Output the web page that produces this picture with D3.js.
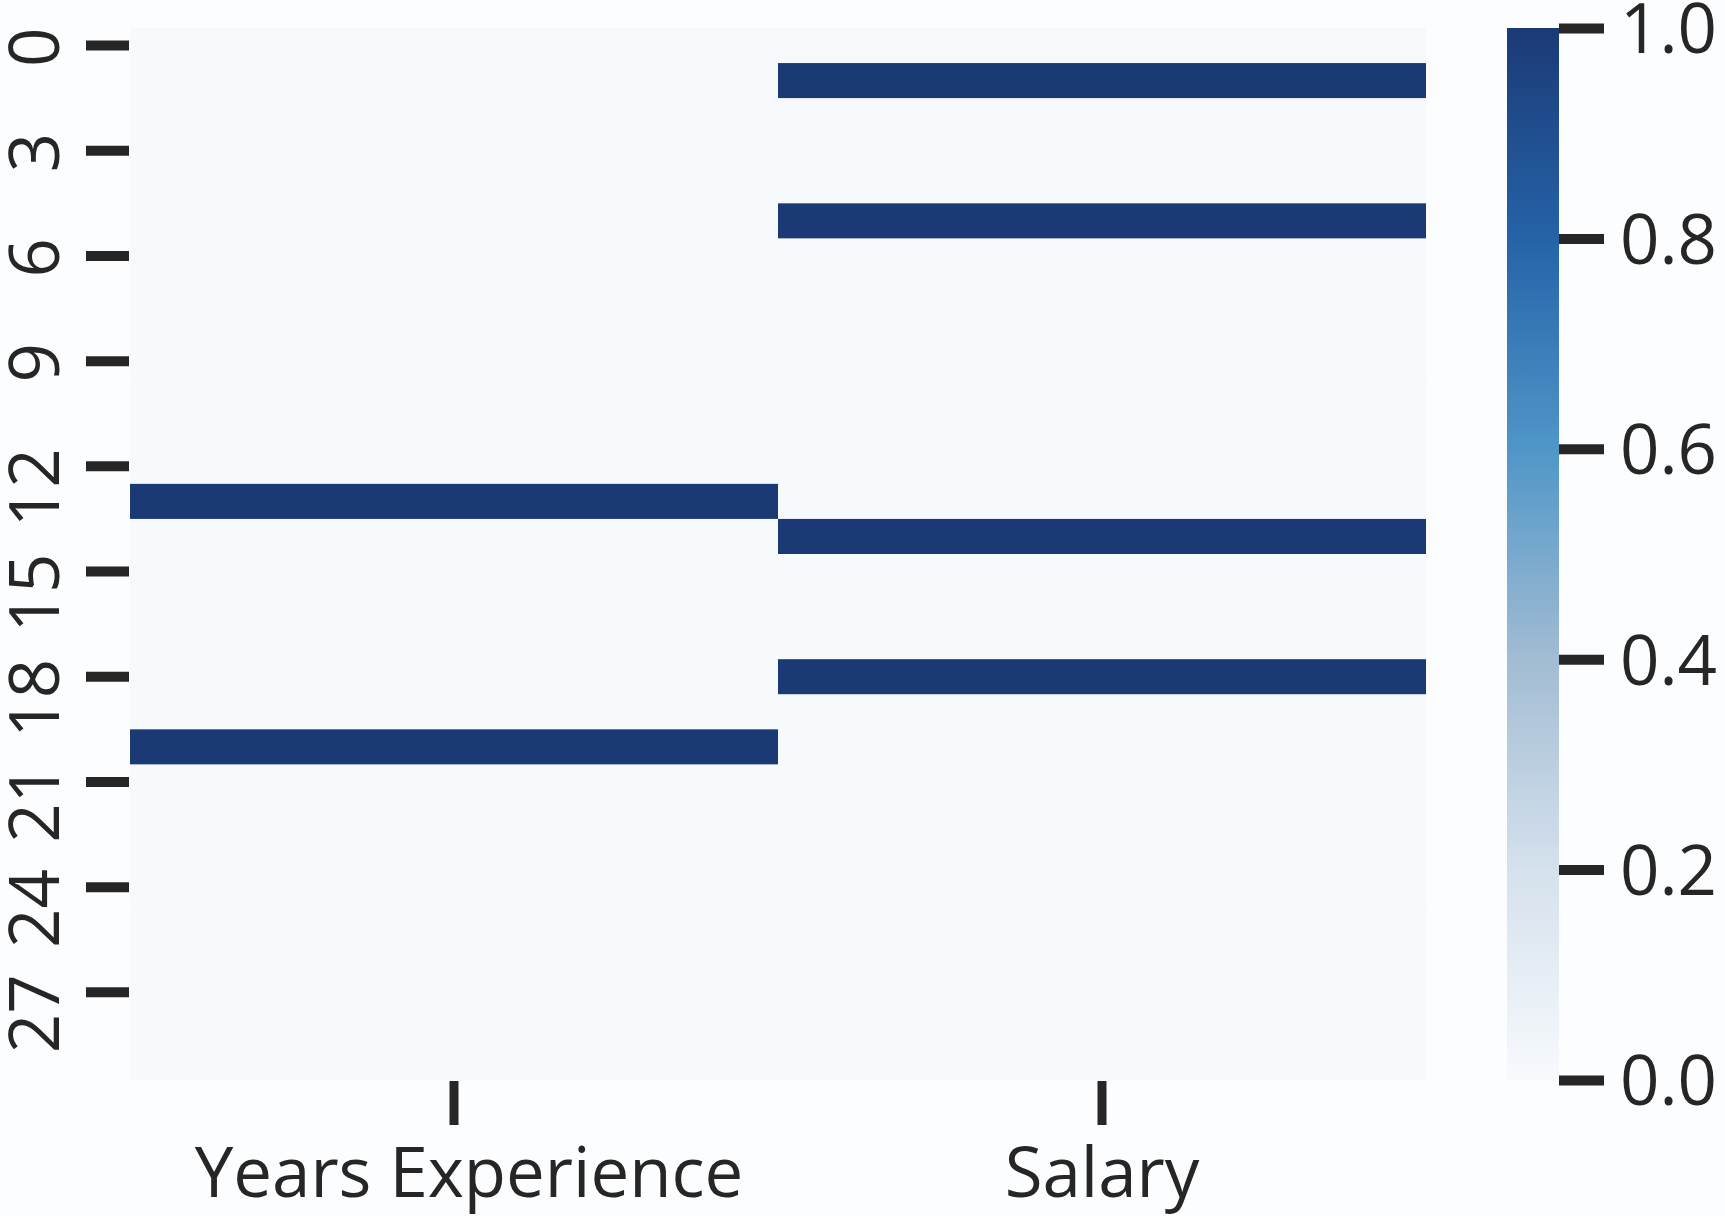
<!DOCTYPE html>
<html>
<head>
<meta charset="utf-8">
<script src="https://cdn.jsdelivr.net/npm/d3@7"></script>
<style>
  html, body { margin: 0; padding: 0; background: #fcfdfe; }
  svg { display: block; }
  text { font-family: "Open Sans", "DejaVu Sans", sans-serif; fill: #262626; }
</style>
</head>
<body>
<svg id="chart" width="1725" height="1216"></svg>
<script>
// ---- data ----
const columns = ["Years Experience", "Salary"];
const rowIndex = [0,1,2,3,4,5,6,7,8,9,10,11,12,13,14,15,16,17,18,19,20,21,22,23,24,25,26,27,28,29];
const yearsMissing  = [0,0,0,0,0,0,0,0,0,0,0,0,0,1,0,0,0,0,0,0,1,0,0,0,0,0,0,0,0,0];
const salaryMissing = [0,1,0,0,0,1,0,0,0,0,0,0,0,0,1,0,0,0,1,0,0,0,0,0,0,0,0,0,0,0];
const yTickLabels = [0,3,6,9,12,15,18,21,24,27];
const cbarTicks = [0.0, 0.2, 0.4, 0.6, 0.8, 1.0];

const seriesValues = [yearsMissing, salaryMissing];
const cells = [];
columns.forEach((c, ci) => rowIndex.forEach((r, ri) => cells.push({col: c, row: r, v: seriesValues[ci][ri]})));

// ---- layout ----
const svg = d3.select("#chart");
const plotTop = 28, plotBottom = 1080, plotLeft = 130, plotRight = 1426;
const cbX0 = 1507, cbX1 = 1559;
const FS = 69;

const x = d3.scaleBand().domain(columns).range([plotLeft, plotRight]);
const y = d3.scaleBand().domain(rowIndex).range([plotTop, plotBottom]);

const stops = [
  [0.0, "#f7fafd"], [0.2, "#d5e1ed"], [0.4, "#a2bcd3"],
  [0.6, "#4f96c8"], [0.8, "#2563a8"], [1.0, "#1b3a75"]
];
const color = d3.scaleLinear().domain(stops.map(s => s[0])).range(stops.map(s => s[1]));

// cells
svg.append("g").selectAll("rect").data(cells).join("rect")
  .attr("x", d => x(d.col))
  .attr("y", d => y(d.row))
  .attr("width", x.bandwidth())
  .attr("height", y.bandwidth() + 0.5)
  .attr("fill", d => color(d.v));

// y axis
const yAxis = d3.axisLeft(y).tickValues(yTickLabels).tickSize(43).tickPadding(0).tickSizeOuter(0);
const gy = svg.append("g").attr("transform", `translate(${plotLeft - 1},0)`).call(yAxis);
gy.select(".domain").remove();
gy.selectAll(".tick line").attr("stroke", "#262626").attr("stroke-width", 10);
gy.selectAll(".tick text")
  .attr("x", 18).attr("dy", null)
  .attr("transform", `translate(${59 - plotLeft + 1},0) rotate(-90)`)
  .attr("text-anchor", "end")
  .style("font-size", FS + "px")
  .style("font-family", '"Open Sans", sans-serif')
  .attr("fill", "#262626");

// x axis
const xAxis = d3.axisBottom(x).tickSize(44).tickPadding(0).tickSizeOuter(0);
const gx = svg.append("g").attr("transform", `translate(0,${plotBottom + 1})`).call(xAxis);
gx.select(".domain").remove();
gx.selectAll(".tick line").attr("stroke", "#262626").attr("stroke-width", 9);
gx.selectAll(".tick text")
  .attr("y", 116).attr("dy", null)
  .attr("dx", (d, i) => i === 0 ? 15 : 0)
  .style("font-size", FS + "px")
  .style("font-family", '"Open Sans", sans-serif')
  .attr("fill", "#262626");

// colorbar
const defs = svg.append("defs");
const grad = defs.append("linearGradient").attr("id", "cb").attr("x1", 0).attr("y1", 1).attr("x2", 0).attr("y2", 0);
grad.selectAll("stop").data(stops).join("stop")
  .attr("offset", d => d[0]).attr("stop-color", d => d[1]);
const cb = d3.scaleLinear().domain([0, 1]).range([plotBottom, plotTop]);
svg.append("rect").attr("x", cbX0).attr("y", plotTop).attr("width", cbX1 - cbX0).attr("height", plotBottom - plotTop)
  .attr("fill", "url(#cb)");
const cAxis = d3.axisRight(cb).tickValues(cbarTicks).tickFormat(d3.format(".1f")).tickSize(45).tickPadding(16).tickSizeOuter(0);
const gc = svg.append("g").attr("transform", `translate(${cbX1},0)`).call(cAxis);
gc.select(".domain").remove();
gc.selectAll(".tick line").attr("stroke", "#262626").attr("stroke-width", 10);
gc.selectAll(".tick text")
  .attr("dy", "0.36em")
  .style("font-size", FS + "px")
  .style("font-family", '"Open Sans", sans-serif')
  .attr("fill", "#262626");
</script>
</body>
</html>
